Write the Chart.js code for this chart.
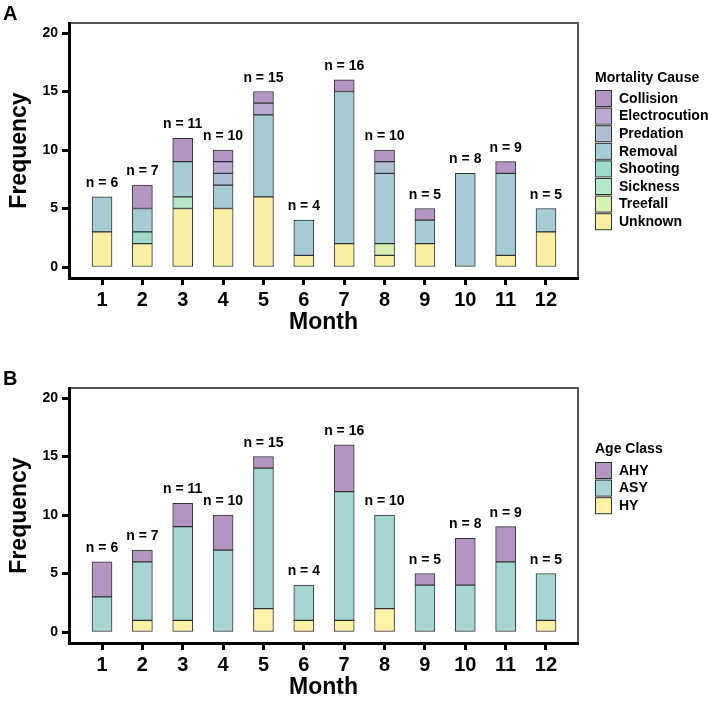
<!DOCTYPE html>
<html>
<head>
<meta charset="utf-8">
<script src="https://cdn.jsdelivr.net/npm/chart.js@4.4.1/dist/chart.umd.min.js"></script>
<style>
html, body { margin: 0; padding: 0; background: #fff; overflow: hidden; width: 709px; height: 705px; }
.panel { position: absolute; left: 0; width: 709px; height: 365px; }
</style>
</head>
<body>
<div class="panel" style="top:0"><canvas id="chartA" width="709" height="365"></canvas></div>
<div class="panel" style="top:365px"><canvas id="chartB" width="709" height="365"></canvas></div>
<script>
const months = [1, 2, 3, 4, 5, 6, 7, 8, 9, 10, 11, 12];
const yTicks = [0, 5, 10, 15, 20];

// panel A - mortality cause, bottom of stack first
const unknown       = [3, 2, 5, 5, 6, 1, 2, 1, 2, 0, 1, 3];
const treefall      = [0, 0, 0, 0, 0, 0, 0, 1, 0, 0, 0, 0];
const sickness      = [0, 0, 1, 0, 0, 0, 0, 0, 0, 0, 0, 0];
const shooting      = [0, 1, 0, 0, 0, 0, 0, 0, 0, 0, 0, 0];
const removal       = [3, 2, 3, 2, 7, 3, 13, 6, 2, 8, 7, 2];
const predation     = [0, 0, 0, 1, 0, 0, 0, 1, 0, 0, 0, 0];
const electrocution = [0, 0, 0, 1, 1, 0, 0, 0, 0, 0, 0, 0];
const collision     = [0, 2, 2, 1, 1, 0, 1, 1, 1, 0, 1, 0];

// panel B - age class
const hy  = [0, 1, 1, 0, 2, 1, 1, 2, 0, 0, 0, 1];
const asy = [3, 5, 8, 7, 12, 3, 11, 8, 4, 4, 6, 4];
const ahy = [3, 1, 2, 3, 1, 0, 4, 0, 1, 4, 3, 0];

Chart.defaults.font.family = '"Liberation Sans", Arial, sans-serif';
Chart.defaults.color = '#000';

function ds(label, data, color) {
    return {
        label: label, data: data, backgroundColor: color,
        borderColor: '#333', borderWidth: 1, borderSkipped: false,
        barThickness: 20
    };
}

// frame, n labels, panel letter and legend
function panelPlugin(letter, legendTitle, titleY, rowY) {
    return {
        id: 'panel' + letter,
        beforeDraw(chart) {
            const a = chart.chartArea, ctx = chart.ctx;
            ctx.save();
            ctx.strokeStyle = '#555';
            ctx.lineWidth = 2;
            ctx.strokeRect(a.left, a.top, a.right - a.left, a.bottom - a.top);
            ctx.restore();
        },
        afterDraw(chart) {
            const ctx = chart.ctx;
            const xs = chart.scales.x, ys = chart.scales.y;
            const sets = chart.data.datasets;
            ctx.save();
            ctx.fillStyle = '#000';
            ctx.font = 'bold 14px "Liberation Sans", Arial, sans-serif';
            ctx.textAlign = 'center';
            ctx.textBaseline = 'alphabetic';
            months.forEach((m, i) => {
                const total = sets.reduce((s, d) => s + d.data[i], 0);
                ctx.fillText('n = ' + total, xs.getPixelForValue(m), ys.getPixelForValue(total) - 10);
            });

            ctx.font = 'bold 20px "Liberation Sans", Arial, sans-serif';
            ctx.textAlign = 'left';
            ctx.fillText(letter, 3, 20);

            ctx.font = 'bold 14px "Liberation Sans", Arial, sans-serif';
            ctx.textBaseline = 'middle';
            ctx.fillText(legendTitle, 595, titleY);
            sets.slice().reverse().forEach((d, i) => {
                const y = rowY + i * 17.6;
                ctx.fillStyle = d.backgroundColor;
                ctx.fillRect(595, y - 8, 16, 16);
                ctx.strokeStyle = '#333';
                ctx.lineWidth = 1;
                ctx.strokeRect(595.5, y - 7.5, 16, 16);
                ctx.fillStyle = '#000';
                ctx.fillText(d.label, 619, y + 1);
            });
            ctx.restore();
        }
    };
}

function makeOptions() {
    return {
        responsive: false,
        animation: false,
        devicePixelRatio: 1,
        layout: { padding: { top: 23, right: 131, left: 0, bottom: 0 } },
        plugins: { legend: { display: false }, tooltip: { enabled: false } },
        scales: {
            x: {
                type: 'linear', min: 0.182, max: 12.793, stacked: true, offset: false,
                afterBuildTicks: s => { s.ticks = months.map(v => ({ value: v })); },
                afterFit: s => { s.height = 87; },
                grid: { offset: false, drawOnChartArea: false, drawTicks: true, tickLength: 7, tickWidth: 3, tickColor: '#000' },
                border: { display: true, color: '#000', width: 3 },
                ticks: { font: { size: 20, weight: 'bold' }, color: '#000', padding: 3, maxRotation: 0, autoSkip: false },
                title: { display: true, text: 'Month', font: { size: 23, weight: 'bold' }, color: '#000', padding: { top: 0, bottom: 29 } }
            },
            y: {
                type: 'linear', min: -0.94, max: 20.855, stacked: true,
                afterBuildTicks: s => { s.ticks = yTicks.map(v => ({ value: v })); },
                afterFit: s => { s.width = 69; },
                grid: { drawOnChartArea: false, drawTicks: true, tickLength: 7, tickWidth: 3, tickColor: '#000' },
                border: { display: true, color: '#000', width: 3 },
                ticks: { font: { size: 14, weight: 'bold' }, color: '#000', padding: 4 },
                title: { display: true, text: 'Frequency', font: { size: 23, weight: 'bold' }, color: '#000', padding: { top: 6, bottom: 0 } }
            }
        }
    };
}

new Chart(document.getElementById('chartA'), {
    type: 'bar',
    data: {
        labels: months,
        datasets: [
            ds('Unknown', unknown, '#faf0a5'),
            ds('Treefall', treefall, '#d7f0b4'),
            ds('Sickness', sickness, '#b4e6c8'),
            ds('Shooting', shooting, '#a0dccd'),
            ds('Removal', removal, '#a6cbd2'),
            ds('Predation', predation, '#afbed2'),
            ds('Electrocution', electrocution, '#b9aad2'),
            ds('Collision', collision, '#b496c3')
        ]
    },
    options: makeOptions(),
    plugins: [panelPlugin('A', 'Mortality Cause', 78, 98)]
});

new Chart(document.getElementById('chartB'), {
    type: 'bar',
    data: {
        labels: months,
        datasets: [
            ds('HY', hy, '#fcf2a8'),
            ds('ASY', asy, '#a6d5d2'),
            ds('AHY', ahy, '#b296c0')
        ]
    },
    options: makeOptions(),
    plugins: [panelPlugin('B', 'Age Class', 84, 105)]
});
</script>
</body>
</html>
